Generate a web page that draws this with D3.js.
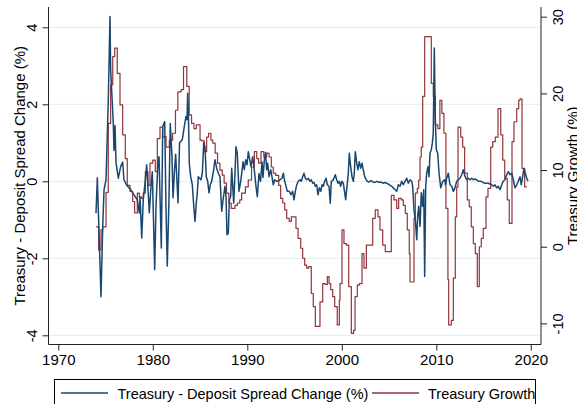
<!DOCTYPE html>
<html>
<head>
<meta charset="utf-8">
<script src="https://cdn.jsdelivr.net/npm/d3@7"></script>
<style>
  body { margin: 0; background: #fff; }
  text { font-family: "Liberation Sans", Arial, Helvetica, sans-serif; fill: #000; }
</style>
</head>
<body>
<svg id="chart" width="577" height="404"></svg>
<script>
// Treasury - Deposit Spread Change (%), monthly-ish readings (left axis)
var spreadYears = [
  1973.99, 1974.13, 1974.52, 1974.70, 1974.84, 1975.05, 1975.29, 1975.47, 1975.54, 1975.82,
  1975.89, 1976.00, 1976.11, 1976.35, 1976.60, 1976.81, 1976.95, 1977.24, 1977.66, 1977.87,
  1978.36, 1978.57, 1978.65, 1978.83, 1978.99, 1979.21, 1979.35, 1979.63, 1979.81, 1979.95,
  1980.20, 1980.34, 1980.52, 1980.66, 1980.90, 1981.05, 1981.26, 1981.40, 1981.53, 1981.71,
  1981.85, 1982.03, 1982.14, 1982.30, 1982.42, 1982.67, 1982.83, 1983.12, 1983.33, 1983.51,
  1983.62, 1983.69, 1983.76, 1983.86, 1984.01, 1984.18, 1984.36, 1984.47, 1984.60, 1984.71,
  1984.81, 1985.10, 1985.24, 1985.39, 1985.52, 1985.66, 1985.81, 1985.95, 1986.08, 1986.23,
  1986.44, 1986.58, 1986.76, 1986.93, 1987.11, 1987.29, 1987.46, 1987.64, 1987.75, 1987.85,
  1987.99, 1988.10, 1988.24, 1988.35, 1988.56, 1988.70, 1988.80, 1988.94, 1989.12, 1989.30,
  1989.41, 1989.55, 1989.68, 1989.83, 1989.97, 1990.11, 1990.23, 1990.39, 1990.57, 1990.74,
  1990.92, 1991.06, 1991.24, 1991.40, 1991.56, 1991.66, 1991.82, 1991.93, 1992.05, 1992.16,
  1992.30, 1992.48, 1992.61, 1992.75, 1992.90, 1993.09, 1993.28, 1993.46, 1993.67, 1993.81,
  1993.96, 1994.10, 1994.23, 1994.44, 1994.62, 1994.80, 1994.94, 1995.08, 1995.23, 1995.40,
  1995.58, 1995.71, 1995.86, 1996.00, 1996.14, 1996.28, 1996.45, 1996.63, 1996.77, 1996.92,
  1997.06, 1997.20, 1997.34, 1997.48, 1997.62, 1997.77, 1997.91, 1998.04, 1998.19, 1998.33,
  1998.47, 1998.65, 1998.78, 1998.89, 1999.04, 1999.17, 1999.31, 1999.46, 1999.60, 1999.74,
  1999.88, 2000.02, 2000.16, 2000.31, 2000.41, 2000.55, 2000.69, 2000.79, 2000.94, 2001.08,
  2001.22, 2001.32, 2001.43, 2001.58, 2001.71, 2001.85, 2002.00, 2002.14, 2002.27, 2002.42,
  2002.56, 2002.70, 2002.88, 2003.09, 2003.30, 2003.51, 2003.72, 2003.94, 2004.15, 2004.36,
  2004.57, 2004.75, 2005.03, 2005.28, 2005.45, 2005.63, 2005.81, 2005.98, 2006.16, 2006.34,
  2006.51, 2006.69, 2006.87, 2007.04, 2007.22, 2007.40, 2007.50, 2007.64, 2007.78, 2007.93,
  2008.03, 2008.14, 2008.28, 2008.41, 2008.56, 2008.67, 2008.77, 2008.88, 2008.98, 2009.12,
  2009.23, 2009.33, 2009.47, 2009.58, 2009.68, 2009.79, 2009.89, 2010.00, 2010.15, 2010.29,
  2010.47, 2010.68, 2010.89, 2010.97, 2011.10, 2011.27, 2011.45, 2011.63, 2011.80, 2011.98,
  2012.16, 2012.33, 2012.51, 2012.69, 2012.86, 2013.04, 2013.22, 2013.39, 2013.57, 2013.75,
  2013.92, 2014.10, 2014.27, 2014.44, 2014.73, 2014.94, 2015.15, 2015.50, 2015.68, 2015.86,
  2016.03, 2016.21, 2016.39, 2016.56, 2016.74, 2016.92, 2017.09, 2017.27, 2017.45, 2017.62,
  2017.80, 2017.98, 2018.15, 2018.33, 2018.51, 2018.68, 2018.86, 2018.99, 2019.14, 2019.28,
  2019.42, 2019.57, 2019.70
];
var spreadValues = [
  -0.83, 0.09, -3.0, -1.17, -0.22, 0.04, 2.1, 4.28, 2.9, 1.5,
  0.8, 1.45, 0.48, 0.08, 0.38, 0.5, 0.04, -0.1, -0.22, -0.3,
  -0.48, -0.82, -0.4, -1.47, -0.48, 0.04, 0.43, -0.82, -0.13, 0.25,
  -2.3, -0.65, 0.38, 0.64, -1.73, 1.42, 1.55, -0.74, -2.2, -0.48,
  1.5, 0.64, -0.43, 0.3, 0.7, -0.56, 1.0, 1.08, 1.42, 1.68,
  1.6, 2.29, 1.86, 0.47, 0.12, -0.09, -0.74, -1.04, -0.57, -0.3,
  0.12, 0.04, 0.21, 1.0, 0.9, 0.12, 0, -0.3, -0.09, 0,
  0.3, 0.56, 0.34, 0.21, 0.12, -0.78, -0.44, -0.13, -0.4, -1.39,
  -1.35, -0.48, -0.4, 0.34, -0.57, 0.21, 0.9, 0.73, -0.26, 0,
  0.21, 0.51, 0.3, 0.56, 0.43, 0.77, 0.6, 0.38, 0.64, 0.3,
  -0.13, -0.4, 0.2, 0.0, 0.5, 0.1, 0.6, 0.75, 0.3, 0.47,
  0.12, 0.3, 0.12, -0.09, 0.04, 0, 0, 0.04, 0.08, 0.21,
  0, -0.13, -0.26, -0.26, -0.35, -0.26, -0.48, -0.26, -0.09, 0,
  0.04, 0.0, 0.12, 0.21, 0.08, 0.04, 0.08, 0, 0.04, -0.05,
  -0.03, -0.13, -0.09, -0.35, -0.17, -0.26, -0.09, -0.13, 0, 0.08,
  -0.09, -0.13, -0.57, 0, 0.02, 0.08, 0.17, 0.04, -0.05, 0,
  -0.13, 0, -0.05, -0.3, -0.48, -0.13, 0.21, 0.73, 0.38, 0.12,
  0, 0.21, 0.77, 0.47, 0.3, 0.51, 0.34, 0.47, 0.3, 0.12,
  0.05, 0, -0.02, 0.02, -0.02, -0.03, 0, -0.03, -0.02, -0.05,
  -0.03, -0.05, -0.09, -0.13, -0.17, -0.22, -0.26, -0.09, -0.13, 0,
  -0.09, 0, 0.08, -0.05, 0.04, 0, -0.13, -0.74, -1.0, -1.52,
  -0.91, -0.65, -1.17, -0.3, -0.65, -0.22, -2.47, -0.13, 0.21, 0.38,
  0.12, 0.73, 0.82, 0.99, 1.25, 3.46, 1.68, 0.82, 0.73, 0.21,
  -0.17, 0, 0.04, -0.09, 0.08, 0.21, -0.09, -0.13, -0.26, -0.17,
  0, 0.04, 0.08, 0.17, 0.3, 0.12, 0.04, 0.08, 0.04, 0.08,
  0.04, 0.06, 0.04, 0, 0, -0.03, -0.05, -0.05, -0.07, -0.09,
  -0.13, -0.09, -0.17, -0.13, -0.22, -0.09, 0, 0.04, 0.17, 0.25,
  0.17, 0.21, 0.04, -0.17, -0.09, 0, 0.12, -0.09, 0.12, 0.34,
  0.21, 0.08, 0
];

// Treasury Growth (%), step levels (right axis): start year of each level
var growthYears = [
  1974.00, 1974.27, 1974.52, 1974.70, 1975.05, 1975.29, 1975.54, 1975.76, 1975.97, 1976.24,
  1976.53, 1976.81, 1977.09, 1977.30, 1977.59, 1977.87, 1978.08, 1978.36, 1978.57, 1978.80,
  1978.99, 1979.21, 1979.49, 1979.70, 1979.99, 1980.26, 1980.48, 1980.76, 1981.05, 1981.20,
  1981.40, 1981.75, 1982.10, 1982.40, 1982.65, 1983.00, 1983.25, 1983.60, 1983.85, 1984.10,
  1984.35, 1984.60, 1985.00, 1985.20, 1985.45, 1985.70, 1985.90, 1986.15, 1986.35, 1986.60,
  1986.85, 1987.10, 1987.35, 1987.55, 1987.80, 1988.05, 1988.30, 1988.70, 1988.95, 1989.20,
  1989.40, 1989.80, 1990.10, 1990.45, 1990.75, 1991.00, 1991.20, 1991.45, 1991.75, 1992.05,
  1992.30, 1992.54, 1992.75, 1993.00, 1993.32, 1993.53, 1993.75, 1993.96, 1994.17, 1994.44,
  1994.66, 1995.15, 1995.37, 1995.65, 1995.86, 1996.07, 1996.29, 1996.50, 1996.77, 1996.98,
  1997.20, 1997.69, 1997.98, 1998.20, 1998.47, 1998.65, 1998.83, 1999.04, 1999.25, 1999.52,
  1999.74, 1999.81, 2000.02, 2000.23, 2000.50, 2000.73, 2001.01, 2001.25, 2001.40, 2001.64,
  2001.85, 2002.14, 2002.35, 2002.60, 2003.27, 2003.54, 2003.83, 2004.04, 2004.33, 2004.60,
  2005.24, 2005.52, 2005.81, 2006.02, 2006.30, 2006.51, 2006.72, 2006.93, 2007.14, 2007.22,
  2007.64, 2007.78, 2007.99, 2008.14, 2008.28, 2008.41, 2008.56, 2008.77, 2009.47, 2009.68,
  2009.89, 2010.17, 2010.38, 2010.59, 2010.81, 2011.02, 2011.23, 2011.31, 2011.59, 2011.80,
  2012.01, 2012.16, 2012.30, 2012.58, 2012.79, 2013.00, 2013.28, 2013.49, 2013.70, 2013.92,
  2014.13, 2014.34, 2014.55, 2014.76, 2014.97, 2015.26, 2015.47, 2015.76, 2015.97, 2016.24,
  2016.53, 2016.82, 2017.03, 2017.24, 2017.51, 2017.72, 2018.01, 2018.22, 2018.51, 2018.72,
  2018.86, 2019.07, 2019.35, 2019.57
];
var growthValues = [
  2.6, -0.4, 2.2, 2.6, 7.1, 16.1, 21.1, 24.8, 25.9, 22.6,
  18.5, 14.6, 11.5, 8.0, 7.2, 5.9, 4.4, 7.0, 6.5, 6.3,
  7.0, 9.8, 8.0, 10.9, 11.3, 9.8, 14.1, 15.6, 14.3, 14.4,
  13.0, 13.9, 14.8, 17.8, 20.2, 20.5, 23.5, 20.9, 17.2, 16.1,
  15.4, 15.9, 13.9, 13.8, 12.4, 14.3, 14.8, 13.9, 13.5, 12.2,
  10.9, 10.0, 9.35, 8.3, 7.0, 5.7, 5.0, 5.4, 5.7, 6.1,
  7.0, 7.8, 8.7, 10.4, 12.4, 11.5, 10.9, 12.4, 11.7, 12.2,
  11.7, 10.4, 9.6, 9.3, 8.0, 6.3, 5.7, 4.8, 3.7, 3.3,
  3.9, 2.4, 1.1, -0.2, -1.5, -2.4, -2.8, -2.6, -6.1, -7.8,
  -10.4, -7.2, -4.8, -4.9, -3.9, -4.8, -5.6, -6.5, -7.8, -10.2,
  -7.0, -4.8, 2.2, 0.4, 0.2, -5.2, -11.3, -10.9, -6.5, -5.0,
  -4.8, -0.9, -2.8, 0.2, 3.7, 4.8, 3.9, 2.2, 0.2, -0.65,
  6.7, 6.1, 5.0, 6.3, 6.1, 5.4, 4.35, 2.2, -0.9, -4.6,
  3.7, 7.0, 7.6, 8.7, 11.7, 13.0, 19.6, 27.4, 21.3, 19.6,
  15.9, 15.4, 19.1, 17.4, 14.8, 5.0, -4.3, -10.2, -9.6, -4.1,
  3.9, 7.8, 15.6, 14.3, 13.0, 9.6, 6.1, 5.2, 2.6, 0.4,
  -0.9, -5.2, 0.0, 1.1, 2.4, 6.5, 7.6, 13.0, 13.7, 14.3,
  18.0, 14.6, 11.3, 8.9, 6.1, 3.05, 13.7, 16.3, 18.0, 19.1,
  19.3, 10.2, 7.8, 7.8
];

var yearTicks = [1970, 1980, 1990, 2000, 2010, 2020];
var leftTicks = [-4, -2, 0, 2, 4];
var rightTicks = [-10, 0, 10, 20, 30];
var seriesNames = ['Treasury - Deposit Spread Change (%)', 'Treasury Growth'];
var leftTitle = 'Treasury - Deposit Spread Change (%)';
var rightTitle = 'Treasury Growth (%)';

var blue = '#1a476f';
var red = '#90353b';

var svg = d3.select('#chart');

var plotLeft = 48.5,
    plotRight = 541,
    plotTop = 7,
    plotBottom = 344.5;

var x = d3.scaleLinear().domain([1970, 2020]).range([58.3, 530.8]);
var yL = d3.scaleLinear().domain([-4, 4]).range([335.3, 27.3]);
var yR = d3.scaleLinear().domain([-10, 30]).range([323.4, 16.7]);

// gridlines
svg.append('g')
    .selectAll('line')
    .data(leftTicks)
    .enter()
    .append('line')
    .attr('x1', plotLeft + 1)
    .attr('x2', plotRight - 1)
    .attr('y1', (d) => yL(d))
    .attr('y2', (d) => yL(d))
    .attr('stroke', '#e3ebee')
    .attr('stroke-width', 1);

// series
var growthData = growthYears.map((d, i) => [d, growthValues[i]]);
var spreadData = spreadYears.map((d, i) => [d, spreadValues[i]]);

var growthLine = d3.line()
    .x((d) => x(d[0]))
    .y((d) => yR(d[1]))
    .curve(d3.curveStepAfter);

var spreadLine = d3.line()
    .x((d) => x(d[0]))
    .y((d) => yL(d[1]));

svg.append('path')
    .datum(growthData)
    .attr('d', growthLine)
    .attr('fill', 'none')
    .attr('stroke', red)
    .attr('stroke-width', 1.2)
    .attr('stroke-linejoin', 'round');

svg.append('path')
    .datum(spreadData)
    .attr('d', spreadLine)
    .attr('fill', 'none')
    .attr('stroke', blue)
    .attr('stroke-width', 1.5)
    .attr('stroke-linejoin', 'round');

// axes
var xAxis = svg.append('g')
    .attr('transform', 'translate(0,' + plotBottom + ')')
    .call(d3.axisBottom(x).tickValues(yearTicks).tickSize(6).tickSizeOuter(0).tickFormat(d3.format('d')));
xAxis.select('.domain').remove();
xAxis.selectAll('text')
    .attr('y', 10)
    .attr('dy', '0.71em')
    .style('font-size', '15px');

var leftAxis = svg.append('g')
    .attr('transform', 'translate(' + plotLeft + ',0)')
    .call(d3.axisLeft(yL).tickValues(leftTicks).tickSize(6).tickSizeOuter(0));
leftAxis.select('.domain').remove();
leftAxis.selectAll('text').remove();
leftAxis.selectAll('.tick')
    .append('text')
    .attr('transform', 'translate(-12,0) rotate(-90)')
    .attr('text-anchor', 'middle')
    .attr('fill', '#000')
    .style('font-size', '14.5px')
    .text((d) => d);

var rightAxis = svg.append('g')
    .attr('transform', 'translate(' + plotRight + ',0)')
    .call(d3.axisRight(yR).tickValues(rightTicks).tickSize(6).tickSizeOuter(0));
rightAxis.select('.domain').remove();
rightAxis.selectAll('text').remove();
rightAxis.selectAll('.tick')
    .append('text')
    .attr('transform', 'translate(22,0) rotate(-90)')
    .attr('text-anchor', 'middle')
    .attr('fill', '#000')
    .style('font-size', '14.5px')
    .text((d) => d);

svg.selectAll('.tick line').attr('stroke', '#222');

// axis lines
svg.append('path')
    .attr('d', 'M' + plotLeft + ',' + plotTop + 'V' + plotBottom + 'H' + plotRight + 'V' + plotTop)
    .attr('fill', 'none')
    .attr('stroke', '#222')
    .attr('stroke-width', 1);

// axis titles
svg.append('text')
    .attr('transform', 'translate(24.5,' + (plotTop + plotBottom) / 2 + ') rotate(-90)')
    .attr('text-anchor', 'middle')
    .style('font-size', '15px')
    .text(leftTitle);

svg.append('text')
    .attr('transform', 'translate(577.5,' + (plotTop + plotBottom) / 2 + ') rotate(-90)')
    .attr('text-anchor', 'middle')
    .style('font-size', '15px')
    .text(rightTitle);

// legend
var legend = svg.append('g');
legend.append('rect')
    .attr('x', 54.5)
    .attr('y', 379.5)
    .attr('width', 481)
    .attr('height', 40)
    .attr('fill', '#fff')
    .attr('stroke', '#000')
    .attr('stroke-width', 1);

var legendItems = [
    { name: seriesNames[0], color: blue, lx: 61, tx: 117.5 },
    { name: seriesNames[1], color: red, lx: 372, tx: 428 },
];

legendItems.forEach(function(item) {
    legend.append('text')
        .attr('x', item.tx)
        .attr('y', 398.5)
        .style('font-size', '14.5px')
        .text(item.name);
    legend.append('line')
        .attr('x1', item.lx)
        .attr('x2', item.lx + 47)
        .attr('y1', 393)
        .attr('y2', 393)
        .attr('stroke', item.color)
        .attr('stroke-width', 1.3);
});
</script>
</body>
</html>
